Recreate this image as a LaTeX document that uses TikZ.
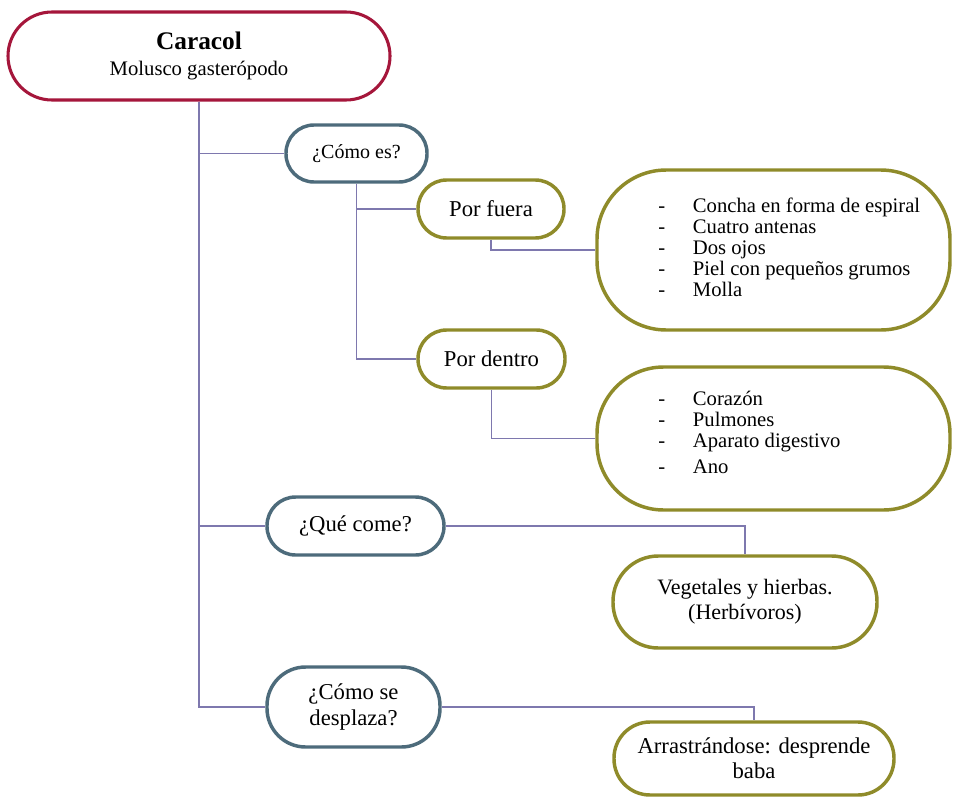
\documentclass[tikz,border=0pt]{standalone}
\usepackage{fontspec}
\setmainfont{Liberation Serif}
\definecolor{cred}{HTML}{A5163B}
\definecolor{cslate}{HTML}{4D6B7B}
\definecolor{colive}{HTML}{8F8B2A}
\definecolor{cline}{HTML}{7E78AE}
\begin{document}
\begin{tikzpicture}[x=0.75pt,y=-0.75pt,
  box/.style={draw, line width=2.6pt, fill=white, inner sep=0pt, align=center, text=black},
  redbox/.style={box, draw=cred, line width=2.3pt},
  slatebox/.style={box, draw=cslate},
  olivebox/.style={box, draw=colive},
  conn/.style={draw=cline, line width=0.9pt},
  listtext/.style={anchor=north west, inner sep=0pt, align=left, font=\fontsize{15.5}{15.75}\selectfont}]
\useasboundingbox (0,0) rectangle (953,796);

\node[redbox, minimum width=286.5pt, minimum height=66pt, rounded corners=33pt, font=\fontsize{15.5}{20}\selectfont] (caracol) at (199,56)
  {{\fontsize{19}{20}\selectfont\bfseries Caracol}\\Molusco gasterópodo};

\node[slatebox, minimum width=105.75pt, minimum height=42.75pt, rounded corners=21pt, font=\fontsize{15}{18}\selectfont] (comoes) at (356.5,153.5) {¿Cómo es?};
\node[olivebox, minimum width=109.5pt, minimum height=43.5pt, rounded corners=21.5pt, font=\fontsize{17}{20}\selectfont] (porfuera) at (491,209) {Por fuera};
\node[olivebox, minimum width=110.25pt, minimum height=43.5pt, rounded corners=21.5pt, font=\fontsize{17}{20}\selectfont] (pordentro) at (491.5,359) {Por dentro};
\node[olivebox, minimum width=264.75pt, minimum height=120pt, rounded corners=52pt] (lista1) at (773.5,250) {};
\node[olivebox, minimum width=264.75pt, minimum height=107.25pt, rounded corners=50pt] (lista2) at (773.5,438.5) {};
\node[slatebox, minimum width=132.75pt, minimum height=43.5pt, rounded corners=21.5pt, font=\fontsize{17}{20}\selectfont] (quecome) at (355.5,526) {¿Qué come?};
\node[olivebox, minimum width=198pt, minimum height=69pt, rounded corners=34pt, font=\fontsize{16.5}{18.75}\selectfont] (vegetales) at (745,602) {Vegetales y hierbas.\\(Herbívoros)};
\node[slatebox, minimum width=129.75pt, minimum height=60pt, rounded corners=29pt, font=\fontsize{17}{20}\selectfont] (desplaza) at (353.5,707) {¿Cómo se\\desplaza?};
\node[olivebox, minimum width=210pt, minimum height=54.75pt, rounded corners=27pt, font=\fontsize{17}{19}\selectfont] (arrastra) at (754,758.5) {Arrastrándose: desprende\\baba};

\node[listtext] (texto1) at (658,198) {\makebox[26pt][l]{-}Concha en forma de espiral\\
\makebox[26pt][l]{-}Cuatro antenas\\
\makebox[26pt][l]{-}Dos ojos\\
\makebox[26pt][l]{-}Piel con pequeños grumos\\
\makebox[26pt][l]{-}Molla};
\node[listtext] (texto2) at (658,391) {\makebox[26pt][l]{-}Corazón\\
\makebox[26pt][l]{-}Pulmones\\
\makebox[26pt][l]{-}Aparato digestivo\\[4pt]
\makebox[26pt][l]{-}Ano};

\draw[conn] (caracol.south) |- (comoes.west);
\draw[conn] (caracol.south) |- (quecome.west);
\draw[conn] (caracol.south) |- (desplaza.west);
\draw[conn] (comoes.south) |- (porfuera.west);
\draw[conn] (comoes.south) |- (pordentro.west);
\draw[conn] (porfuera.south) |- (lista1.west);
\draw[conn] (pordentro.south) |- (lista2.west);
\draw[conn] (quecome.east) -| (vegetales.north);
\draw[conn] (desplaza.east) -| (arrastra.north);
\end{tikzpicture}
\end{document}
